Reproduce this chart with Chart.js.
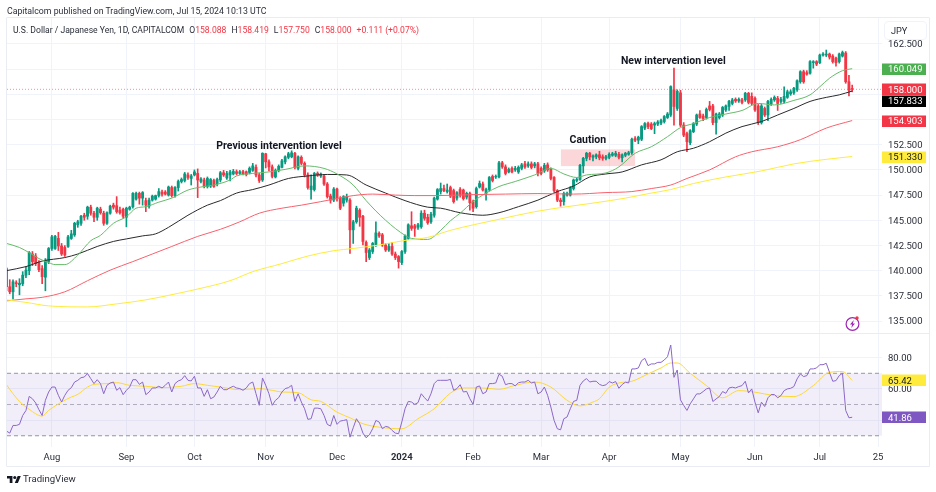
<!doctype html>
<html lang="en">
  <head>
    <meta charset="utf-8">
    <title>USD/JPY | CAPITALCOM</title>
    <script src="https://cdn.jsdelivr.net/npm/chart.js@4"></script>
    <style>
      html, body { margin: 0; padding: 0; background: #fff; }
      body { width: 936px; height: 492px; overflow: hidden; position: relative; font-family: Roboto, "Noto Sans", sans-serif; color: #2a2e39; }
      #chart { position: absolute; left: 0; top: 0; }
      .txt { position: absolute; white-space: nowrap; }
      #published { left: 7px; top: 5px; font-size: 8.75px; line-height: 12px; }
      #legend { left: 13px; top: 24px; font-size: 8.6px; line-height: 12px; }
      #legend b { font-weight: 400; color: #f23645; }
      #legend span { margin-left: 5px; }
      #brand { left: 23px; top: 472px; font-size: 9.6px; line-height: 14px; }
      #unit { left: 884px; top: 21px; width: 41px; height: 17px; border: 1px solid #f0f3fa; border-radius: 4px; font-size: 9.2px; line-height: 17px; text-indent: 6px; }
      svg { position: absolute; }
    </style>
  </head>
  <body>
    <canvas id="chart" width="936" height="492"></canvas>
    <div class="txt" id="published">Capitalcom published on TradingView.com, Jul 15, 2024 10:13 UTC</div>
    <div class="txt" id="legend">U.S. Dollar / Japanese Yen, 1D, CAPITALCOM<span>O<b>158.088</b></span><span>H<b>158.419</b></span><span>L<b>157.750</b></span><span>C<b>158.000</b></span><span><b>+0.111 (+0.07%)</b></span></div>
    <div class="txt" id="unit">JPY</div>
    <svg style="left:7px;top:475px" width="14" height="8" viewBox="0 0 36 20"><path fill="#131722" d="M14 20H7V9H0V2h14v18zM28 20h-8l7.5-18h8L28 20z"/><circle cx="20" cy="6" r="4" fill="#131722"/></svg>
    <div class="txt" id="brand">TradingView</div>
    <svg style="left:844px;top:315px" width="18" height="18" viewBox="0 0 18 18"><circle cx="8.5" cy="9" r="6.4" fill="none" stroke="#9c27b0" stroke-width="1.2"/><path fill="#9c27b0" d="M9.8 5 6 9.6h2.2L7.2 13 11 8.4H8.8z"/><circle cx="13" cy="3" r="1.7" fill="#f23645"/></svg>
    <script>
      // Candles
      const opens = [
        140.2,138.4,137.9,138.8,138.6,138.7,139.55,140.0,141.65,141.45,
        140.8,140.2,139.35,140.9,142.2,142.2,143.2,142.45,142.3,142.4,
        143.2,143.55,144.55,144.7,145.5,145.4,146.3,145.7,145.3,146.1,
        145.7,144.7,145.7,146.5,146.45,146.0,146.1,145.3,146.1,146.35,
        147.1,147.67,147.2,146.95,146.4,147.0,147.1,147.45,147.8,147.8,
        147.5,148.25,147.45,148.25,148.85,148.95,149.5,149.15,149.5,149.65,
        148.85,149.0,148.35,148.4,148.95,148.6,149.0,149.72,149.2,149.5,
        149.6,149.82,149.65,149.82,149.82,149.75,149.95,150.25,149.5,149.0,
        151.6,150.8,150.3,149.3,149.95,150.25,150.8,151.25,151.3,151.65,
        150.15,151.25,150.65,149.5,148.05,148.05,149.65,149.4,149.4,148.6,
        147.4,147.0,148.1,147.2,146.7,147.0,147.0,144.05,144.85,146.0,
        145.4,142.8,141.3,141.9,142.55,143.7,143.55,142.55,142.05,142.4,
        141.65,141.4,140.8,141.9,143.2,144.45,144.45,144.3,144.35,145.7,
        145.3,144.85,145.5,147.1,147.85,148.15,147.85,148.25,147.95,147.2,
        148.05,148.0,147.3,147.67,146.85,146.35,148.3,148.6,147.67,148.05,
        149.35,149.3,149.3,150.7,150.3,149.8,150.15,150.0,149.8,150.15,
        150.6,150.4,150.6,150.4,150.6,150.15,149.9,150.5,150.05,149.25,
        147.95,147.0,146.85,147.5,147.5,148.15,148.95,149.05,150.4,151.15,
        151.65,151.25,151.3,151.5,151.3,151.15,151.25,151.45,151.45,151.55,
        151.2,151.45,151.55,151.7,153.1,152.95,153.05,154.15,154.6,154.55,
        154.45,154.55,154.65,154.8,155.2,155.45,157.95,156.1,157.65,154.45,
        153.6,152.7,153.8,154.55,155.55,155.35,155.2,156.35,156.35,154.7,
        155.2,155.45,155.95,156.3,156.6,157.0,156.85,156.95,156.95,157.6,
        157.3,157.1,156.35,154.7,156.1,155.45,156.55,156.95,157.1,156.8,
        156.8,157.2,157.55,157.65,157.95,158.75,159.75,159.65,159.6,160.65,
        160.75,160.65,161.4,161.4,161.5,161.3,161.1,160.75,161.3,161.6,
        158.75,158.09
      ];
      const highs = [
        140.3,139.1,139.1,139.0,139.2,139.9,140.4,141.9,141.9,141.7,
        141.0,140.5,141.2,142.3,143.5,143.5,143.8,142.7,142.5,143.5,
        144.0,144.8,145.0,145.5,145.7,146.4,146.5,145.9,146.3,146.3,
        145.9,145.85,146.5,146.7,147.35,146.3,146.2,146.3,146.4,147.75,
        147.8,147.8,147.85,147.2,147.2,147.5,147.5,148.15,148.0,147.95,
        148.4,148.4,148.35,149.0,149.2,149.75,149.7,149.55,150.0,150.1,
        149.25,149.2,149.3,149.15,149.1,149.2,149.85,149.95,149.85,149.95,
        150.05,150.0,149.95,149.95,149.9,150.3,150.65,150.5,149.65,151.7,
        151.65,151.0,150.5,150.1,150.5,151.05,151.4,151.75,151.9,151.75,
        151.4,151.4,150.8,149.7,149.5,149.75,149.8,149.7,149.55,148.75,
        147.6,148.25,148.2,147.35,147.45,147.6,147.15,145.0,146.4,146.15,
        145.5,142.95,142.2,142.8,144.85,143.85,143.7,142.7,142.7,142.8,
        141.85,141.5,142.0,143.55,144.65,145.85,144.6,144.7,145.95,146.0,
        145.6,145.8,147.3,148.15,148.7,148.5,148.6,148.4,148.1,147.85,
        148.25,148.1,147.8,147.8,147.0,148.3,148.9,148.8,148.2,149.35,
        149.5,149.5,150.85,150.85,150.5,150.2,150.3,150.35,150.4,150.65,
        150.85,150.8,150.8,150.75,150.75,150.3,150.65,150.7,150.2,149.35,
        148.05,147.2,147.8,147.8,148.35,149.1,149.2,150.55,151.25,151.75,
        151.75,151.5,151.6,151.85,151.5,151.45,151.7,151.75,151.85,151.75,
        151.6,151.75,151.85,153.15,153.3,153.35,154.4,154.7,154.75,154.7,
        154.75,154.9,155.05,155.4,155.7,158.35,160.1,157.95,157.9,154.7,
        153.75,154.0,154.7,155.55,155.9,155.55,156.15,156.8,156.5,155.65,
        155.7,156.3,156.45,156.9,157.1,157.15,157.15,157.1,157.7,157.7,
        157.65,157.25,156.5,156.5,156.25,156.9,157.15,157.35,157.3,157.2,
        158.25,157.9,157.95,158.2,158.95,159.85,159.9,159.85,160.85,160.85,
        160.85,161.5,161.65,161.9,161.6,161.45,161.2,161.6,161.8,161.75,
        159.4,158.42
      ];
      const lows = [
        138.0,137.7,137.2,138.4,137.6,138.5,139.3,139.6,140.5,140.5,
        139.9,138.7,138.0,140.7,142.0,142.1,142.0,141.5,141.4,142.3,
        143.1,143.4,144.3,144.5,145.0,145.1,145.5,144.85,145.0,145.6,
        144.5,144.6,145.6,146.1,145.7,145.6,145.2,144.35,146.0,146.2,
        147.0,146.6,146.5,145.85,146.2,146.9,147.0,147.3,147.4,147.5,
        147.4,147.3,147.3,147.9,148.7,148.8,149.05,148.5,149.4,147.25,
        148.7,148.2,148.2,148.25,148.25,148.4,148.8,149.35,149.05,148.9,
        149.5,149.5,149.55,149.5,149.4,149.6,149.85,149.3,148.75,148.85,
        150.2,149.9,149.2,149.2,149.8,150.2,150.6,151.1,151.2,150.1,
        150.0,150.5,149.3,148.1,147.1,147.9,149.35,149.25,148.45,147.2,
        146.7,146.85,146.9,146.05,146.4,146.8,141.7,142.7,144.7,144.4,
        142.55,140.9,141.1,141.7,142.4,143.3,142.4,141.9,141.9,141.5,
        141.1,140.25,140.6,141.7,143.1,144.0,143.4,144.1,144.2,145.0,
        144.6,144.7,145.3,147.0,147.6,147.85,147.7,147.25,146.7,147.0,
        147.3,147.0,147.1,146.0,145.85,146.2,148.2,147.9,147.0,147.9,
        148.8,149.15,149.2,150.15,149.5,149.7,149.7,149.85,149.65,150.0,
        150.15,150.25,150.1,150.2,149.4,149.5,149.75,149.85,149.0,147.8,
        146.85,146.4,146.5,147.4,147.4,148.0,148.8,148.95,149.7,150.9,
        151.0,150.9,151.1,151.0,150.95,151.0,151.1,151.35,151.3,151.1,
        150.8,151.3,151.45,151.55,152.8,152.6,152.9,154.0,154.1,154.0,
        153.6,154.4,154.5,154.65,155.1,155.3,154.45,155.9,154.3,153.3,
        151.8,152.5,153.7,154.4,155.1,154.9,155.05,155.85,154.5,153.55,
        155.05,155.3,155.8,155.9,156.45,156.7,156.7,156.55,156.8,156.55,
        156.45,155.8,154.5,154.55,155.3,154.9,156.4,156.8,155.9,156.6,
        156.65,157.1,157.4,157.5,157.8,158.6,158.6,159.4,159.5,160.1,
        160.35,160.55,161.3,161.25,161.0,160.6,160.3,160.6,161.2,158.6,
        157.35,157.75
      ];
      const closes = [
        138.4,137.9,138.9,138.7,138.75,139.55,140.05,141.8,140.9,140.7,
        140.1,139.4,141.05,142.2,143.35,143.4,142.45,141.65,141.55,143.35,
        143.65,144.7,144.85,145.4,145.3,146.3,145.7,145.3,146.2,145.75,
        144.7,145.75,146.4,146.3,145.85,145.75,145.4,146.2,146.3,147.67,
        147.67,147.2,147.75,146.5,147.0,147.4,147.45,147.85,147.6,147.6,
        148.3,147.45,148.25,148.85,149.05,149.6,149.25,149.4,149.8,149.0,
        149.1,148.35,149.15,149.05,148.35,149.05,149.72,149.5,149.65,149.8,
        149.85,149.65,149.82,149.6,149.55,150.15,150.4,149.5,148.95,151.65,
        150.8,150.3,149.35,149.95,150.35,150.9,151.3,151.6,151.7,150.25,
        151.3,150.65,149.5,148.25,148.4,149.65,149.5,149.6,148.6,147.35,
        147.0,148.1,147.2,146.2,147.35,147.35,144.05,144.85,146.2,145.3,
        142.9,141.8,142.05,142.7,143.75,143.45,142.55,142.05,142.4,141.65,
        141.3,140.9,141.9,143.45,144.55,144.2,144.2,144.55,145.7,145.2,
        144.75,145.6,147.2,148.05,148.15,147.95,148.0,147.4,146.85,147.75,
        147.5,147.15,147.67,146.75,146.2,148.15,148.65,148.0,148.05,149.25,
        148.95,149.35,150.7,150.3,149.65,150.05,149.8,150.15,150.25,150.5,
        150.3,150.6,150.25,150.6,149.65,149.65,150.45,150.0,149.15,147.95,
        147.0,146.85,147.67,147.67,148.25,149.0,149.05,150.45,151.15,151.65,
        151.3,151.4,151.5,151.2,151.15,151.3,151.55,151.6,151.65,151.25,
        151.5,151.65,151.7,153.05,152.95,153.25,154.3,154.6,154.3,154.1,
        154.6,154.75,154.9,155.3,155.55,158.27,156.3,157.8,154.45,153.45,
        152.8,153.9,154.6,155.45,155.2,155.1,156.0,156.0,154.7,155.55,
        155.55,156.2,156.35,156.8,156.95,156.85,157.0,156.7,157.6,156.7,
        156.6,155.95,154.7,156.35,155.45,156.8,157.0,157.2,156.6,157.0,
        157.3,157.75,157.75,158.1,158.85,159.75,158.75,159.5,160.75,160.75,
        160.5,161.4,161.5,161.5,161.2,160.75,160.65,161.5,161.65,158.75,
        157.9,158.0
      ];

      // Moving averages at these bars
      const greenBars = [0,4,7,10,13,15,18,22,26,29,33,37,40,43,47,51,56,60,64,69,71,76,81,86,92,98,102,107,111,117,123,125,130,134,137,140,144,148,152,157,163,168,172,176,179,185,189,194,199,204,208,212,217,222,227,232,237,243,248,251,254,258,261];
      const greenVals = [142.7,142.3,141.78,141.2,140.8,140.6,140.6,141.55,142.97,143.5,144.7,145.35,146.2,146.35,146.8,147.2,148.0,148.3,148.5,149.0,149.4,149.65,149.8,150.05,150.4,150.15,149.6,148.5,146.95,145.0,143.5,143.2,143.1,144.0,144.95,145.7,146.85,147.7,148.35,148.85,149.5,150.15,149.6,149.25,149.5,149.7,150.3,151.65,152.3,153.3,154.2,154.6,155.2,155.55,155.9,156.6,156.45,156.9,157.45,158.25,159.1,159.85,160.05];
      const blackBars = [0,6,11,18,22,28,33,37,42,46,50,56,62,66,71,76,81,87,93,99,105,111,117,123,130,134,140,147,152,158,164,170,175,180,185,190,196,202,207,212,217,222,227,233,238,243,248,253,257,261];
      const blackVals = [140.0,140.4,140.95,141.3,141.65,142.4,142.9,143.15,143.45,143.65,144.3,145.5,146.5,146.95,147.7,148.05,148.5,149.15,149.4,149.55,149.5,148.5,147.7,146.95,146.3,146.2,145.75,145.5,145.75,146.35,147.0,147.85,148.4,149.3,149.6,149.8,150.5,151.0,151.8,152.15,152.8,153.65,154.3,154.8,155.45,156.1,156.8,157.2,157.45,157.83];
      const redBars = [0,6,11,18,25,32,39,45,51,59,66,72,78,85,91,97,101,107,113,120,126,133,144,154,164,175,185,193,199,205,210,217,225,230,238,245,253,261];
      const redVals = [137.0,137.2,137.35,137.9,139.0,140.05,140.9,141.65,142.4,143.4,144.1,144.85,145.7,146.2,146.5,146.85,147.1,147.45,147.6,147.5,147.45,147.45,147.55,147.6,147.65,147.6,147.75,147.85,148.15,148.5,149.15,150.0,151.3,151.8,152.3,153.0,154.15,154.9];
      const yellowBars = [0,6,13,25,34,43,53,60,69,76,85,93,101,107,115,123,130,137,152,163,173,182,191,199,205,212,222,233,243,253,261];
      const yellowVals = [137.1,136.85,136.5,136.4,136.7,137.1,137.75,138.25,139.0,139.9,140.7,141.45,141.98,142.2,142.55,143.0,143.3,144.0,145.1,145.85,146.35,146.75,147.2,147.7,148.05,148.65,149.3,149.9,150.6,151.05,151.33];

      // RSI pane
      const rsi = [
        33.0,31.7,36.6,36.6,37.3,43.0,46.2,55.2,53.7,51.0,
        46.7,43.0,52.7,58.0,61.2,61.2,55.9,51.6,55.9,59.1,
        60.8,64.4,65.5,67.2,67.6,69.8,66.6,63.4,65.9,63.4,
        56.9,62.3,63.8,64.4,59.1,60.8,56.3,59.1,61.2,65.9,
        65.9,62.9,64.4,56.3,58.0,60.6,60.6,61.7,60.6,62.3,
        64.4,58.0,63.4,65.1,65.9,68.5,65.5,65.1,68.1,60.6,
        60.6,55.2,59.5,53.7,54.8,58.0,61.7,59.5,59.5,60.8,
        61.7,60.6,60.2,59.1,60.6,63.4,64.4,56.9,49.5,67.0,
        62.3,56.9,49.5,52.7,54.4,58.0,60.2,60.8,62.3,52.0,
        56.9,51.6,47.3,40.5,40.9,47.7,47.7,47.3,43.0,37.3,
        36.2,43.0,37.3,39.4,39.8,40.3,29.1,35.1,40.9,37.7,
        31.7,28.7,30.6,34.5,39.8,38.8,34.5,36.0,35.5,33.4,
        31.7,31.3,38.8,47.3,52.0,51.6,50.1,51.2,56.9,54.4,
        52.2,56.9,63.4,65.5,65.5,65.5,65.5,66.1,59.1,60.2,
        62.7,58.0,58.4,53.7,50.1,61.2,61.9,56.9,58.0,63.4,
        63.4,63.8,69.4,68.1,62.7,63.4,63.4,61.9,64.0,64.4,
        64.4,65.5,63.8,64.4,56.9,58.0,61.2,55.9,48.4,39.8,
        34.5,33.8,40.9,42.0,47.3,52.0,52.7,62.3,65.1,66.6,
        64.4,64.9,64.9,62.9,62.1,62.6,64.7,63.8,64.7,60.4,
        62.8,64.3,63.8,72.8,72.8,73.4,78.1,79.6,74.9,76.0,
        76.0,77.0,77.0,78.5,80.6,88.1,67.4,72.1,53.0,49.4,
        46.2,50.4,53.6,56.8,56.8,58.3,60.0,60.6,51.9,53.6,
        55.1,58.3,57.2,60.6,61.1,60.6,61.5,62.1,64.9,57.4,
        60.0,51.5,44.7,51.5,48.7,54.3,56.4,56.4,54.3,55.7,
        58.9,60.0,60.4,61.5,66.4,69.6,67.9,68.5,72.8,72.8,
        73.4,75.5,75.5,76.4,70.6,64.9,65.3,68.5,70.0,46.2,
        41.5,41.86
      ];
      const rsiMaBars = [0,2,4,7,11,13,17,20,22,25,27,31,34,38,43,48,54,58,62,66,72,78,82,85,90,94,97,102,106,110,115,122,127,132,137,141,147,152,157,163,168,173,177,181,183,186,189,193,198,202,205,207,211,216,221,226,231,237,243,249,254,258,261];
      const rsiMaVals = [62.7,56.9,52.0,46.9,42.6,46.2,51.6,54.8,56.5,61.2,62.9,63.4,64.0,62.3,61.7,60.8,61.7,63.4,62.3,61.2,59.5,60.2,59.1,58.0,57.6,53.0,52.0,45.1,41.5,37.7,35.5,34.5,40.9,47.3,57.3,60.6,60.6,59.7,62.3,64.4,61.2,52.7,49.1,51.6,53.7,61.1,63.8,64.9,69.6,73.4,76.6,76.6,70.0,62.1,54.3,58.9,57.9,55.7,55.1,62.1,70.6,71.1,65.42];
      const rsiBands = [70, 50, 30];

      // Axis labels
      const monthBars = [14,37,58,80,102,122,144,165,186,208,231,251,269];
      const monthLabels = ['Aug','Sep','Oct','Nov','Dec','2024','Feb','Mar','Apr','May','Jun','Jul','25'];
      const priceTicks = [135,137.5,140,142.5,145,147.5,150,152.5,155,157.5,160,162.5];
      const hiddenPriceTicks = [155,157.5,160];
      const rsiTicks = [40,60,80];
      const hiddenRsiTicks = [40];
      const lastPrice = 158.0;

      const UP = '#089981', DOWN = '#f23645';
      const GRID = '#f0f3fa', FRAME = '#e9ecf2', TICK_TEXT = '#2a2e39';
      const FONT = 'Roboto, "Noto Sans", sans-serif';
      const bars = closes.map((c, i) => i);
      const X_MIN = 0.15, X_MAX = 270.2;

      const xy = (xs, ys) => xs.map((x, i) => ({ x: x, y: ys[i] }));
      const flat = y => [{ x: X_MIN, y: y }, { x: X_MAX, y: y }];
      const maLine = (xs, ys, color, axis) => ({
        type: 'line', data: xy(xs, ys), yAxisID: axis || 'y', borderColor: color, borderWidth: 1,
        pointRadius: 0, cubicInterpolationMode: 'monotone', order: 1
      });
      const barColors = closes.map((c, i) => c >= opens[i] ? UP : DOWN);

      // Price badges on the right axis, text labels on the pane
      const priceBadges = [
        { v: 160.049, axis: 'y', text: '160.049', bg: '#4caf50', fg: '#fff', dy: 0 },
        { v: 158.000, axis: 'y', text: '158.000', bg: '#f23645', fg: '#fff', dy: 0 },
        { v: 157.833, axis: 'y', text: '157.833', bg: '#000', fg: '#fff', dy: 10 },
        { v: 154.903, axis: 'y', text: '154.903', bg: '#f23645', fg: '#fff', dy: 0 },
        { v: 151.330, axis: 'y', text: '151.330', bg: '#ffeb3b', fg: '#131722', dy: 0 },
        { v: 65.42, axis: 'yRsi', text: '65.42', bg: '#ffeb3b', fg: '#131722', dy: 0 },
        { v: 41.86, axis: 'yRsi', text: '41.86', bg: '#7e57c2', fg: '#fff', dy: 0 }
      ];
      const notes = [
        { text: 'Previous intervention level', bar: 84.1, price: 152.37 },
        { text: 'Caution', bar: 179.4, price: 152.97 },
        { text: 'New intervention level', bar: 205.8, price: 160.8 }
      ];
      const cautionBox = { from: 171.1, to: 194, low: 150.38, high: 152.04 };

      const chartDecor = {
        id: 'chartDecor',
        beforeDatasetsDraw(chart) {
          const { ctx, scales } = chart;
          const x = scales.x, y = scales.y;
          ctx.save();
          ctx.fillStyle = 'rgba(242,54,69,0.2)';
          const left = x.getPixelForValue(cautionBox.from), top = y.getPixelForValue(cautionBox.high);
          ctx.fillRect(left, top, x.getPixelForValue(cautionBox.to) - left, y.getPixelForValue(cautionBox.low) - top);
          ctx.restore();
        },
        afterDraw(chart) {
          const { ctx, scales, chartArea: a } = chart;
          ctx.save();
          // frame and pane separator
          ctx.strokeStyle = FRAME;
          ctx.lineWidth = 1;
          ctx.beginPath();
          ctx.moveTo(a.left - 0.5, a.top - 0.5); ctx.lineTo(929.5, a.top - 0.5);
          ctx.moveTo(a.left - 0.5, a.top); ctx.lineTo(a.left - 0.5, 466.5);
          ctx.moveTo(a.left, 466.5); ctx.lineTo(929.5, 466.5);
          ctx.moveTo(929.5, a.top); ctx.lineTo(929.5, 466.5);
          ctx.moveTo(a.left, scales.y.bottom + 0.5); ctx.lineTo(929.5, scales.y.bottom + 0.5);
          ctx.stroke();
          // badges
          ctx.font = '9.5px ' + FONT;
          ctx.textBaseline = 'middle';
          ctx.textAlign = 'left';
          priceBadges.forEach(b => {
            const py = scales[b.axis].getPixelForValue(b.v) + b.dy;
            ctx.fillStyle = b.bg;
            ctx.fillRect(a.right, Math.round(py) - 5.5, 44, 11.5);
            ctx.fillStyle = b.fg;
            ctx.fillText(b.text, a.right + 6, py + 1);
          });
          // chart notes
          ctx.font = '700 10.5px ' + FONT;
          ctx.textAlign = 'center';
          ctx.fillStyle = '#131722';
          notes.forEach(n => ctx.fillText(n.text, scales.x.getPixelForValue(n.bar), scales.y.getPixelForValue(n.price)));
          ctx.restore();
        }
      };

      new Chart(document.getElementById('chart'), {
        data: {
          datasets: [
            { type: 'bar', data: xy(bars, lows.map((l, i) => [l, highs[i]])), backgroundColor: barColors, barThickness: 1, grouped: false, yAxisID: 'y', order: 3 },
            { type: 'bar', data: xy(bars, opens.map((o, i) => [o, closes[i]])), backgroundColor: barColors, barThickness: 2.2, grouped: false, yAxisID: 'y', order: 2 },
            maLine(yellowBars, yellowVals, '#ffeb3b'),
            maLine(redBars, redVals, '#f7626e'),
            maLine(greenBars, greenVals, '#66bb6a'),
            maLine(blackBars, blackVals, '#2a2a2a'),
            { type: 'line', data: flat(lastPrice), yAxisID: 'y', borderColor: 'rgba(242,54,69,0.55)', borderWidth: 1, borderDash: [1, 2], pointRadius: 0, order: 4 },
            { type: 'line', data: flat(rsiBands[0]), yAxisID: 'yRsi', borderColor: '#9598a1', borderWidth: 1, borderDash: [4, 3], pointRadius: 0, order: 5, fill: { value: rsiBands[2] }, backgroundColor: 'rgba(126,87,194,0.1)' },
            { type: 'line', data: flat(rsiBands[1]), yAxisID: 'yRsi', borderColor: 'rgba(149,152,161,0.7)', borderWidth: 1, borderDash: [4, 3], pointRadius: 0, order: 5 },
            { type: 'line', data: flat(rsiBands[2]), yAxisID: 'yRsi', borderColor: '#9598a1', borderWidth: 1, borderDash: [4, 3], pointRadius: 0, order: 5 },
            { type: 'line', data: xy(rsiMaBars, rsiMaVals), yAxisID: 'yRsi', borderColor: '#fdd835', borderWidth: 1, pointRadius: 0, cubicInterpolationMode: 'monotone', order: 2 },
            { type: 'line', data: xy(bars, rsi), yAxisID: 'yRsi', borderColor: '#8a67c9', borderWidth: 1, pointRadius: 0, tension: 0, order: 1 }
          ]
        },
        options: {
          responsive: false,
          animation: false,
          events: [],
          layout: { padding: { left: 7, top: 18, right: 7, bottom: 26 } },
          plugins: { legend: { display: false }, tooltip: { enabled: false } },
          scales: {
            x: {
              type: 'linear', min: X_MIN, max: X_MAX, offset: false,
              afterBuildTicks: s => { s.ticks = monthBars.map(v => ({ value: v })); },
              afterFit: s => { s.height = 19; },
              grid: { color: GRID, drawTicks: false, offset: false },
              border: { display: false },
              ticks: {
                autoSkip: false, maxRotation: 0, padding: 5, color: TICK_TEXT,
                font: c => ({ family: FONT, size: 9.5, weight: c.tick && monthLabels[monthBars.indexOf(c.tick.value)] === '2024' ? '700' : '400' }),
                callback: v => monthLabels[monthBars.indexOf(v)]
              }
            },
            y: {
              position: 'right', stack: 'panes', stackWeight: 315, min: 133.81, max: 165.08,
              afterBuildTicks: s => { s.ticks = priceTicks.map(v => ({ value: v })); },
              afterFit: s => { s.width = 47; },
              grid: { color: GRID, drawTicks: false },
              border: { display: false },
              ticks: {
                padding: 6, labelOffset: 1, color: TICK_TEXT, font: { family: FONT, size: 9.5 },
                callback: v => hiddenPriceTicks.includes(v) ? '' : v.toFixed(3)
              }
            },
            yRsi: {
              position: 'right', stack: 'panes', stackWeight: 114, min: 22.8, max: 95.8,
              afterBuildTicks: s => { s.ticks = rsiTicks.map(v => ({ value: v })); },
              afterFit: s => { s.width = 47; },
              grid: { color: GRID, drawTicks: false },
              border: { display: false },
              ticks: {
                padding: 6, labelOffset: 1, color: TICK_TEXT, font: { family: FONT, size: 9.5 },
                callback: v => hiddenRsiTicks.includes(v) ? '' : v.toFixed(2)
              }
            }
          }
        },
        plugins: [chartDecor]
      });
    </script>
  </body>
</html>
